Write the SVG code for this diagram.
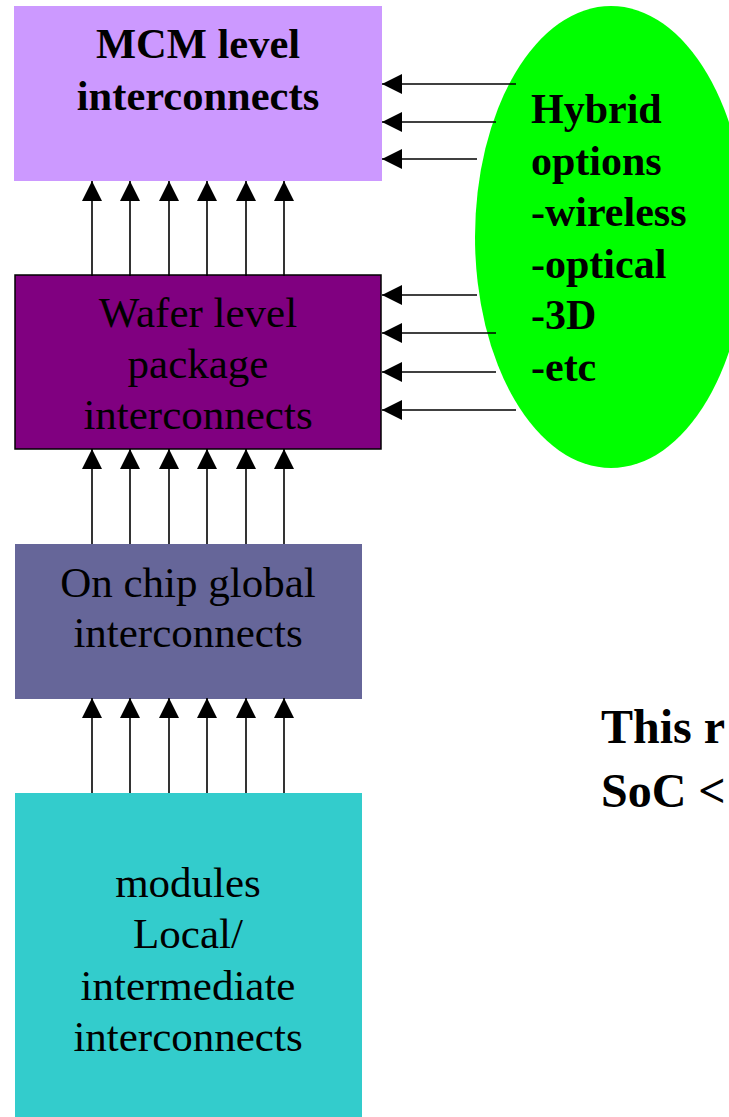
<svg xmlns="http://www.w3.org/2000/svg" width="729" height="1117" viewBox="0 0 729 1117">
<style>
.lbl{font-family:"Liberation Serif","Times New Roman",serif;font-size:43px;fill:#000;text-anchor:middle}
.bold{font-family:"Liberation Serif","Times New Roman",serif;font-weight:bold;fill:#000}
.conn line{stroke:#000;stroke-width:1.6;marker-end:url(#ah)}
</style>
<defs>
<marker id="ah" viewBox="0 0 20 20" refX="20" refY="10" markerWidth="20" markerHeight="20" markerUnits="userSpaceOnUse" orient="auto">
<path d="M0,0 L20,10 L0,20 z" fill="#000"/>
</marker>
</defs>
<rect width="729" height="1117" fill="#fff"/>
<g id="hybrid">
<ellipse cx="611" cy="237" rx="136" ry="231" fill="#00FF00"/>
<text class="bold" font-size="42" x="531"><tspan x="531" y="123">Hybrid</tspan><tspan x="531" y="175">options</tspan><tspan x="531" y="226">-wireless</tspan><tspan x="531" y="278">-optical</tspan><tspan x="531" y="329">-3D</tspan><tspan x="531" y="381">-etc</tspan></text>
</g>
<g id="mcm">
<rect x="14" y="6" width="368" height="175" fill="#CC99FF"/>
<text class="bold" font-size="42.5" text-anchor="middle"><tspan x="198" y="58">MCM level</tspan><tspan x="198" y="110">interconnects</tspan></text>
</g>
<g id="wafer">
<rect x="15" y="275" width="366" height="174" fill="#800080" stroke="#000" stroke-width="1.5"/>
<text class="lbl"><tspan x="198" y="327">Wafer level</tspan><tspan x="198" y="378">package</tspan><tspan x="198" y="429">interconnects</tspan></text>
</g>
<g id="global">
<rect x="15" y="544" width="347" height="155" fill="#666699"/>
<text class="lbl"><tspan x="188" y="597">On chip global</tspan><tspan x="188" y="647">interconnects</tspan></text>
</g>
<g id="modules">
<rect x="15" y="793" width="347" height="324" fill="#33CCCC"/>
<text class="lbl"><tspan x="188" y="897">modules</tspan><tspan x="188" y="948">Local/</tspan><tspan x="188" y="1000">intermediate</tspan><tspan x="188" y="1051">interconnects</tspan></text>
</g>
<g id="note">
<text class="bold" font-size="48"><tspan x="601" y="743">This r</tspan><tspan x="601" y="807">SoC &lt;</tspan></text>
</g>
<g id="connectors" class="conn">
<line x1="92" y1="276" x2="92" y2="181"/>
<line x1="130" y1="276" x2="130" y2="181"/>
<line x1="169" y1="276" x2="169" y2="181"/>
<line x1="207" y1="276" x2="207" y2="181"/>
<line x1="246" y1="276" x2="246" y2="181"/>
<line x1="284" y1="276" x2="284" y2="181"/>
<line x1="92" y1="544" x2="92" y2="449"/>
<line x1="130" y1="544" x2="130" y2="449"/>
<line x1="169" y1="544" x2="169" y2="449"/>
<line x1="207" y1="544" x2="207" y2="449"/>
<line x1="246" y1="544" x2="246" y2="449"/>
<line x1="284" y1="544" x2="284" y2="449"/>
<line x1="92" y1="793" x2="92" y2="698"/>
<line x1="130" y1="793" x2="130" y2="698"/>
<line x1="169" y1="793" x2="169" y2="698"/>
<line x1="207" y1="793" x2="207" y2="698"/>
<line x1="246" y1="793" x2="246" y2="698"/>
<line x1="284" y1="793" x2="284" y2="698"/>
<line x1="516" y1="84" x2="382" y2="84"/>
<line x1="496" y1="122" x2="382" y2="122"/>
<line x1="477" y1="159" x2="382" y2="159"/>
<line x1="477" y1="295" x2="382" y2="295"/>
<line x1="496" y1="333" x2="382" y2="333"/>
<line x1="496" y1="372" x2="382" y2="372"/>
<line x1="516" y1="410" x2="382" y2="410"/>
</g>
</svg>
